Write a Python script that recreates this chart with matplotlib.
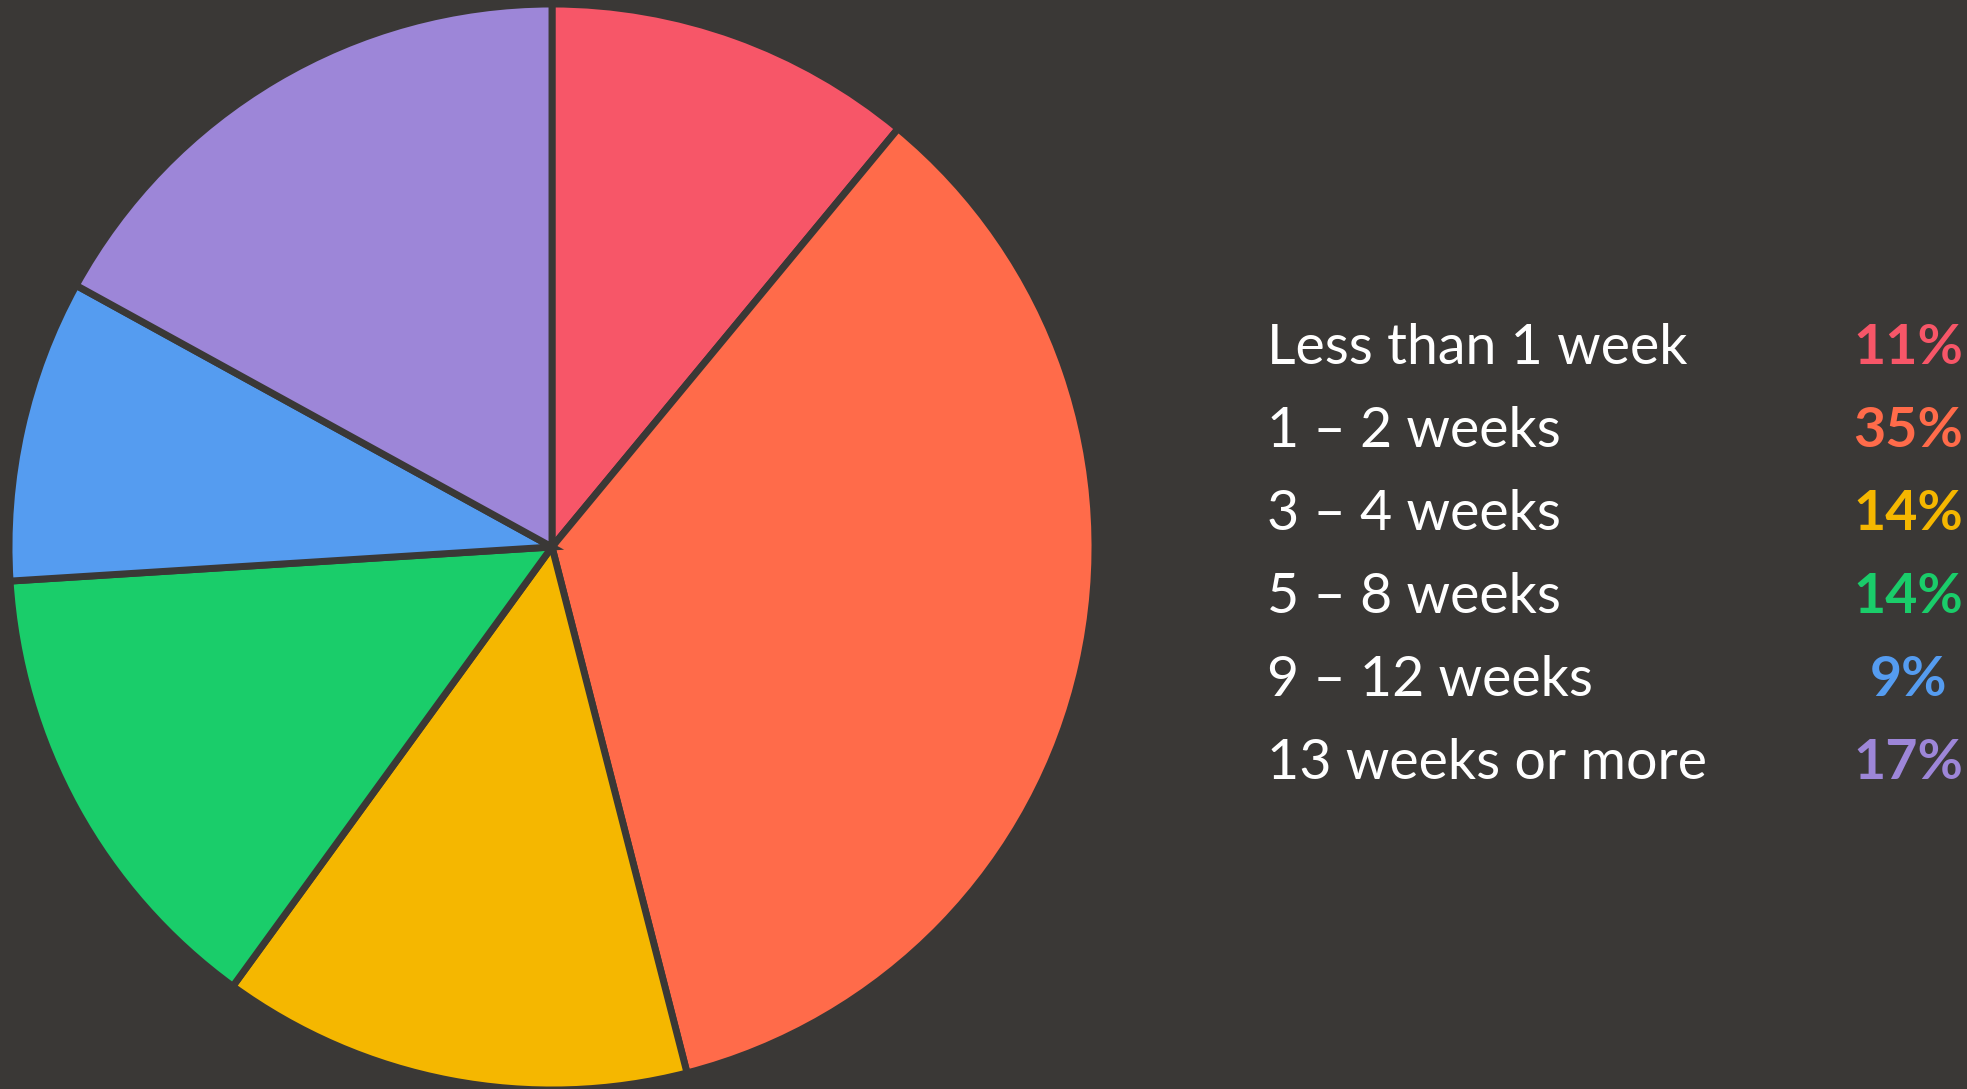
import matplotlib
matplotlib.use("Agg")
import matplotlib.pyplot as plt

categories = ["Less than 1 week", "1 – 2 weeks", "3 – 4 weeks", "5 – 8 weeks",
              "9 – 12 weeks", "13 weeks or more"]
values = [11, 35, 14, 14, 9, 17]
pct_labels = ["11%", "35%", "14%", "14%", "9%", "17%"]
colors = ["#F75668", "#FF6B4A", "#F5B700", "#1ACD6A", "#559CF0", "#9D86D8"]

BG = "#3A3836"
W, H = 1967, 1089
fig = plt.figure(figsize=(W / 100, H / 100), dpi=100, facecolor=BG)

cx, cy, r = 552, 547, 543
ax = fig.add_axes([(cx - r) / W, (H - cy - r) / H, 2 * r / W, 2 * r / H])
ax.set_facecolor(BG)
ax.pie(values, colors=colors, startangle=90, counterclock=False,
       wedgeprops=dict(edgecolor=BG, linewidth=5.0))
ax.set_xlim(-1, 1)
ax.set_ylim(-1, 1)
ax.set_aspect("equal")
ax.axis("off")

fam = ["Lato", "DejaVu Sans"]
baseline0 = 364
step = 83
for i, (cat, p, c) in enumerate(zip(categories, pct_labels, colors)):
    yb = baseline0 + i * step
    fig.text(1267 / W, 1 - yb / H, cat, color="white", fontsize=40,
             family=fam, weight="normal", ha="left", va="baseline")
    fig.text(1908 / W, 1 - yb / H, p, color=c, fontsize=40,
             family=fam, weight="bold", ha="center", va="baseline")

fig.savefig("out.png", dpi=100, facecolor=BG)
